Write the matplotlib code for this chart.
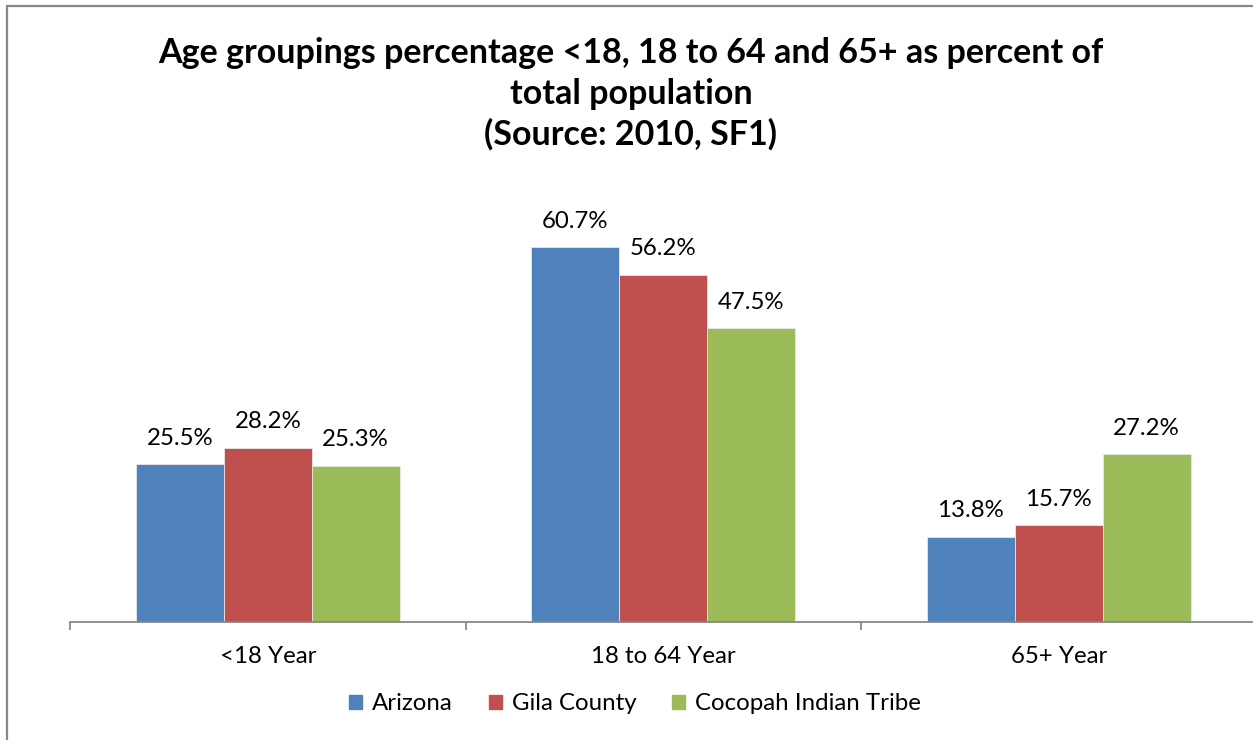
import matplotlib.pyplot as plt
import matplotlib.patches as mpatches
import numpy as np

# data
categories = ["<18 Year", "18 to 64 Year", "65+ Year"]
series_names = ["Arizona", "Gila County", "Cocopah Indian Tribe"]
arizona = [25.5, 60.7, 13.8]
gila = [28.2, 56.2, 15.7]
cocopah = [25.3, 47.5, 27.2]
colors = ["#4F81BD", "#C0504D", "#9BBB59"]

plt.rcParams["font.family"] = ["Lato", "DejaVu Sans"]
fs = 17.3

W, H = 1253, 740
fig = plt.figure(figsize=(W / 100, H / 100), dpi=100)

# axes placed in pixel units of the reference
ax_left, ax_right, ax_bottom = 70, 1256.5, 622
ymax = 70
px_per_unit = 6.18
ax = fig.add_axes([ax_left / W, (H - ax_bottom) / H,
                   (ax_right - ax_left) / W, ymax * px_per_unit / H])

x = np.arange(len(categories)) + 0.5
bw = 0.2225
for i, (vals, name) in enumerate(zip([arizona, gila, cocopah], series_names)):
    pos = x + (i - 1) * bw
    bars = ax.bar(pos, vals, width=bw, color=colors[i], edgecolor="#E8E8E8",
                  linewidth=0.6, label=name)
    for b, v in zip(bars, vals):
        ax.annotate(f"{v}%", (b.get_x() + b.get_width() / 2, v),
                    xytext=(0, 11), textcoords="offset points",
                    ha="center", va="bottom", fontsize=fs, color="black")

ax.set_xlim(0, 3)
ax.set_ylim(0, ymax)
ax.set_yticks([])
for s in ["top", "right", "left"]:
    ax.spines[s].set_visible(False)
ax.spines["bottom"].set_color("#878787")
ax.spines["bottom"].set_linewidth(1.3)

ax.set_xticks(x)
ax.set_xticklabels(categories, fontsize=fs)
ax.tick_params(axis="x", which="major", length=0, pad=17)
ax.set_xticks([0, 1, 2, 3], minor=True)
ax.tick_params(axis="x", which="minor", length=6, width=1.3, color="#878787")

# title
fig.text(631 / W, 1 - 94 / H,
         "Age groupings percentage <18, 18 to 64 and 65+ as percent of\n"
         "total population\n(Source: 2010, SF1)",
         ha="center", va="center", fontsize=24.5, fontweight="bold",
         linespacing=1.32)

# legend
handles = [mpatches.Patch(color=c, label=n) for c, n in zip(colors, series_names)]
fig.legend(handles=handles, loc="center", bbox_to_anchor=(635 / W, 1 - 704 / H),
           ncol=3, frameon=False, fontsize=fs, handlelength=0.55,
           handleheight=0.55, handletextpad=0.4, columnspacing=1.5)

# outer chart border
border = mpatches.Rectangle((7 / W, -0.1), 1.2, 1 - 6 / H + 0.1,
                            transform=fig.transFigure, fill=False,
                            edgecolor="#878787", linewidth=1.6)
fig.patches.append(border)

fig.savefig("out.png", dpi=100, facecolor="white")
